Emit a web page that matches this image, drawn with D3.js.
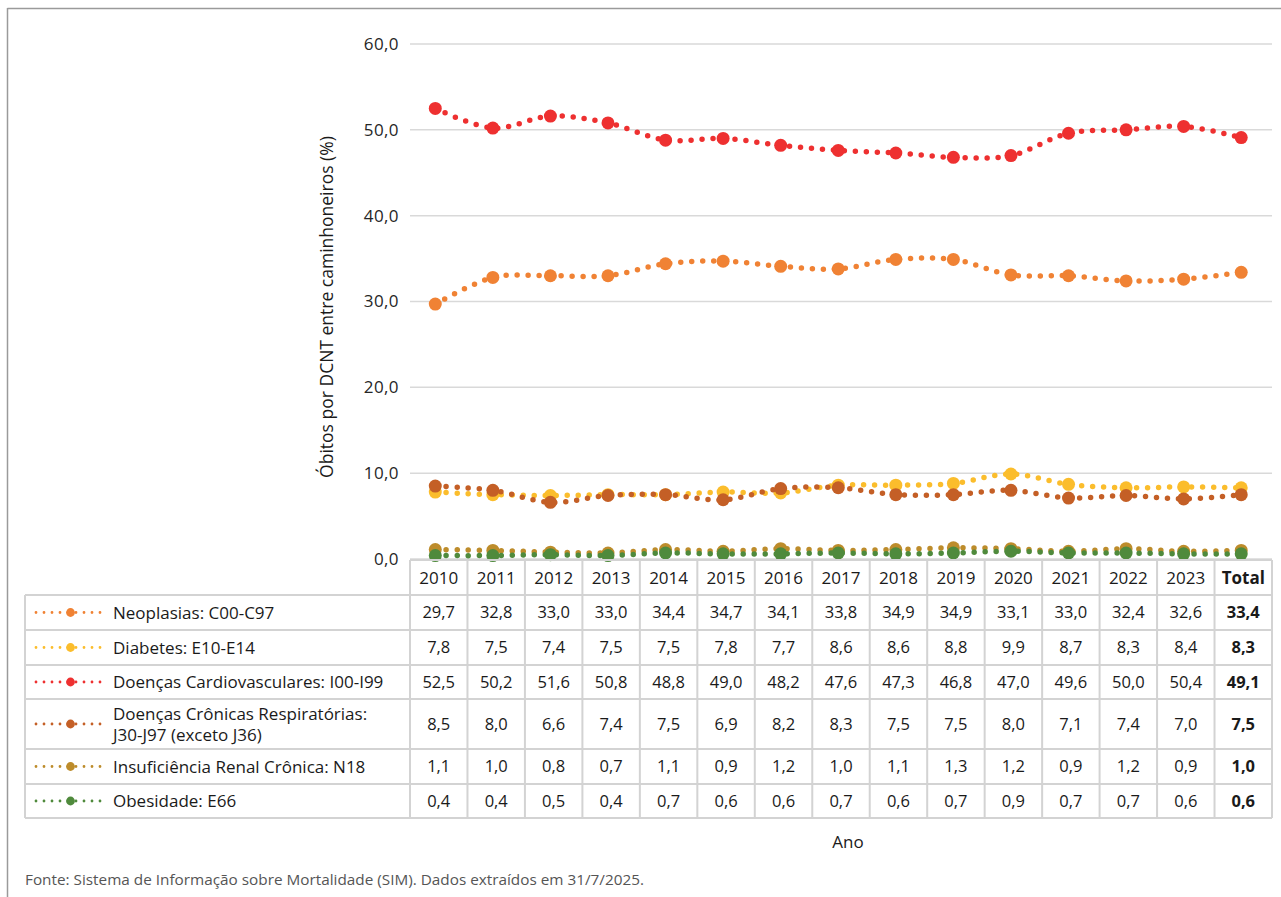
<!DOCTYPE html>
<html>
<head>
<meta charset="utf-8">
<script src="https://cdn.jsdelivr.net/npm/d3@7"></script>
<style>
  html, body { margin: 0; padding: 0; background: #fff; }
  svg { display: block; font-family: "Open Sans", "Lato", sans-serif; }
</style>
</head>
<body>
<svg id="chart" width="1281" height="897"></svg>
<script>
// Categories (years plus the overall total)
const categories = ["2010","2011","2012","2013","2014","2015","2016","2017","2018","2019","2020","2021","2022","2023","Total"];

// Share of NCD deaths among truck drivers (%), by group
const neoplasias    = [29.7,32.8,33.0,33.0,34.4,34.7,34.1,33.8,34.9,34.9,33.1,33.0,32.4,32.6,33.4];
const diabetes      = [7.8,7.5,7.4,7.5,7.5,7.8,7.7,8.6,8.6,8.8,9.9,8.7,8.3,8.4,8.3];
const cardio        = [52.5,50.2,51.6,50.8,48.8,49.0,48.2,47.6,47.3,46.8,47.0,49.6,50.0,50.4,49.1];
const respiratorias = [8.5,8.0,6.6,7.4,7.5,6.9,8.2,8.3,7.5,7.5,8.0,7.1,7.4,7.0,7.5];
const renal         = [1.1,1.0,0.8,0.7,1.1,0.9,1.2,1.0,1.1,1.3,1.2,0.9,1.2,0.9,1.0];
const obesidade     = [0.4,0.4,0.5,0.4,0.7,0.6,0.6,0.7,0.6,0.7,0.9,0.7,0.7,0.6,0.6];

const seriesNames = [
  ["Neoplasias: C00-C97"],
  ["Diabetes: E10-E14"],
  ["Doenças Cardiovasculares: I00-I99"],
  ["Doenças Crônicas Respiratórias:", "J30-J97 (exceto J36)"],
  ["Insuficiência Renal Crônica: N18"],
  ["Obesidade: E66"]
];
const seriesValues = [neoplasias, diabetes, cardio, respiratorias, renal, obesidade];
const seriesColors = ["#f08234", "#fbbd2c", "#ee3030", "#c45f26", "#bd8c2b", "#4f8a3c"];

const yTicks = [0, 10, 20, 30, 40, 50, 60];

const fmt = v => v.toFixed(1).replace(".", ",");

const svg = d3.select("#chart");

// Outer frame (top and left edges)
svg.append("line").attr("x1", 7.5).attr("x2", 1281).attr("y1", 8.5).attr("y2", 8.5)
  .attr("stroke", "#9a9a9a").attr("stroke-width", 1.5);
svg.append("line").attr("x1", 7.5).attr("x2", 7.5).attr("y1", 8).attr("y2", 897)
  .attr("stroke", "#9a9a9a").attr("stroke-width", 1.5);

// Scales
const plotLeft = 410, plotRight = 1272;
const y = d3.scaleLinear().domain([0, 60]).range([559, 44]);
const xPts = d3.scaleBand().domain(categories).range([406.5, 1270]);
const xCol = d3.scaleBand().domain(categories).range([plotLeft, plotRight]);
const cx = c => xPts(c) + xPts.bandwidth() / 2;

// Gridlines and y tick labels
const gy = svg.append("g");
gy.selectAll("line").data(yTicks).join("line")
  .attr("x1", plotLeft).attr("x2", plotRight)
  .attr("y1", d => y(d)).attr("y2", d => y(d))
  .attr("stroke", "#d9d9d9").attr("stroke-width", 1.5);
gy.selectAll("text").data(yTicks).join("text")
  .attr("x", 399).attr("y", d => y(d)).attr("dy", "0.35em")
  .attr("text-anchor", "end").attr("font-size", 17).attr("fill", "#262626")
  .attr("letter-spacing", 0.4)
  .text(d => fmt(d));

// Y axis title
svg.append("text")
  .attr("transform", "translate(333,307) rotate(-90)")
  .attr("text-anchor", "middle").attr("font-size", 17.5).attr("fill", "#1a1a1a")
  .text("Óbitos por DCNT entre caminhoneiros (%)");

// Series: dotted smooth lines with round markers
const line = d3.line()
  .x((d, i) => cx(categories[i]))
  .y(d => y(d))
  .curve(d3.curveCardinal.tension(0));

seriesValues.forEach((vals, s) => {
  const g = svg.append("g");
  g.append("path").attr("d", line(vals))
    .attr("fill", "none").attr("stroke", seriesColors[s])
    .attr("stroke-width", 5.5).attr("stroke-linecap", "round")
    .attr("stroke-dasharray", "0 11");
  g.selectAll("circle").data(vals).join("circle")
    .attr("cx", (d, i) => cx(categories[i]))
    .attr("cy", d => y(d))
    .attr("r", 6.5)
    .attr("fill", seriesColors[s]);
});

// Data table
const rowHeights = [35, 35, 34, 50, 35, 34];
const headerTop = 560, headerBottom = 595;
const rowTops = [headerBottom];
rowHeights.forEach((h, i) => rowTops.push(rowTops[i] + h));
const tableLeft = 25;
const gridColor = "#d3d3d3";
const tbl = svg.append("g");

// horizontal rules
tbl.append("line").attr("x1", plotLeft).attr("x2", plotRight)
  .attr("y1", headerTop).attr("y2", headerTop).attr("stroke", gridColor).attr("stroke-width", 2);
rowTops.forEach(t => {
  tbl.append("line").attr("x1", tableLeft).attr("x2", plotRight)
    .attr("y1", t).attr("y2", t).attr("stroke", gridColor).attr("stroke-width", 2);
});
// vertical rules
const colEdges = categories.map(c => xCol(c)).concat([plotRight]);
colEdges.forEach(xv => {
  tbl.append("line").attr("x1", xv).attr("x2", xv)
    .attr("y1", headerTop).attr("y2", rowTops[rowTops.length - 1])
    .attr("stroke", gridColor).attr("stroke-width", 2);
});
tbl.append("line").attr("x1", tableLeft).attr("x2", tableLeft)
  .attr("y1", headerBottom).attr("y2", rowTops[rowTops.length - 1])
  .attr("stroke", gridColor).attr("stroke-width", 2);

// header labels
tbl.selectAll("text.hdr").data(categories).join("text")
  .attr("class", "hdr")
  .attr("x", c => xCol(c) + xCol.bandwidth() / 2)
  .attr("y", (headerTop + headerBottom) / 2).attr("dy", "0.36em")
  .attr("text-anchor", "middle").attr("font-size", 17).attr("fill", "#1a1a1a")
  .attr("font-weight", c => c === "Total" ? 700 : 400)
  .text(c => c);

// rows
seriesValues.forEach((vals, s) => {
  const top = rowTops[s], mid = top + rowHeights[s] / 2;
  const row = tbl.append("g");
  // legend key: dotted sample with a marker
  row.append("line").attr("x1", 36).attr("x2", 101).attr("y1", mid).attr("y2", mid)
    .attr("stroke", seriesColors[s]).attr("stroke-width", 2.8)
    .attr("stroke-linecap", "round").attr("stroke-dasharray", "0 8");
  row.append("circle").attr("cx", 70.5).attr("cy", mid).attr("r", 4.4)
    .attr("fill", seriesColors[s]);
  const names = seriesNames[s];
  names.forEach((n, k) => {
    row.append("text").attr("x", 113)
      .attr("y", mid + (k - (names.length - 1) / 2) * 21).attr("dy", "0.36em")
      .attr("font-size", 17).attr("fill", "#1a1a1a").text(n);
  });
  row.selectAll("text.val").data(vals).join("text")
    .attr("class", "val")
    .attr("x", (d, i) => xCol(categories[i]) + xCol.bandwidth() / 2)
    .attr("y", mid).attr("dy", "0.36em")
    .attr("text-anchor", "middle").attr("font-size", 16.5).attr("fill", "#1a1a1a")
    .attr("font-weight", (d, i) => categories[i] === "Total" ? 700 : 400)
    .text(d => fmt(d));
});

// X axis title
svg.append("text").attr("x", 848).attr("y", 842).attr("dy", "0.35em")
  .attr("text-anchor", "middle").attr("font-size", 17).attr("fill", "#1a1a1a")
  .text("Ano");

// Source note
svg.append("text").attr("x", 25).attr("y", 880).attr("dy", "0.35em")
  .attr("font-size", 14).attr("fill", "#555")
  .attr("textLength", 619).attr("lengthAdjust", "spacingAndGlyphs")
  .text("Fonte: Sistema de Informação sobre Mortalidade (SIM). Dados extraídos em 31/7/2025.");
</script>
</body>
</html>
